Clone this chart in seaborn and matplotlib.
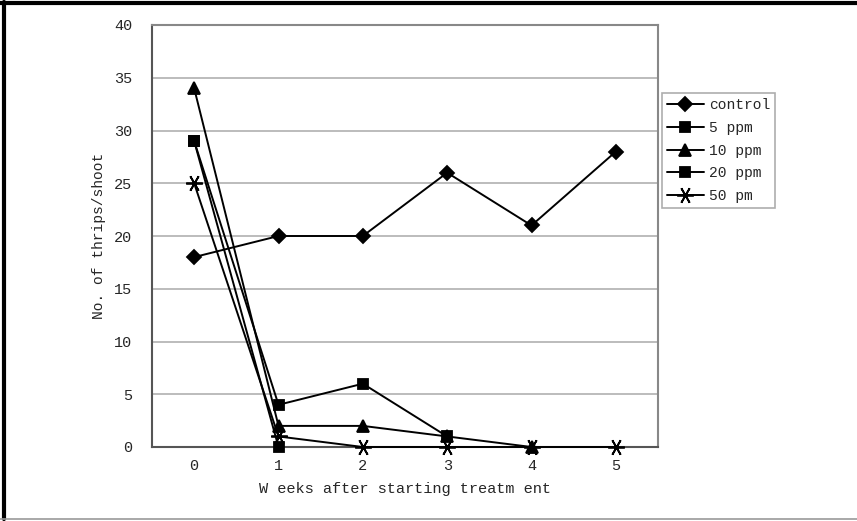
import numpy as np
import pandas as pd
import matplotlib
matplotlib.use("Agg")
import matplotlib.pyplot as plt
import seaborn as sns
from matplotlib.lines import Line2D

# Thrips counts per shoot, by weeks after the start of treatment
weeks = [0, 1, 2, 3, 4, 5]
control = [18, 20, 20, 26, 21, 28]
ppm_5 = [29, 4, 6, 1, np.nan, np.nan]
ppm_10 = [34, 2, 2, 1, 0, np.nan]
ppm_20 = [29, 0, np.nan, np.nan, np.nan, np.nan]
pm_50 = [25, 1, 0, 0, 0, 0]

series_names = ["control", "5 ppm", "10 ppm", "20 ppm", "50 pm"]
series_values = [control, ppm_5, ppm_10, ppm_20, pm_50]
y_ticks = [0, 5, 10, 15, 20, 25, 30, 35, 40]

frames = []
for name, vals in zip(series_names, series_values):
    frames.append(pd.DataFrame({"week": weeks, "count": vals, "treatment": name}))
df = pd.concat(frames, ignore_index=True).dropna()

sns.set_style("white")
plt.rcParams["font.family"] = ["Liberation Mono", "DejaVu Sans"]

fig = plt.figure(figsize=(8.57, 5.21), dpi=100)
ax = fig.add_axes([152 / 857, 74 / 521, 506 / 857, 422 / 521])

styles = {
    "control": dict(marker="D", markersize=7.5, zorder=4),
    "5 ppm": dict(marker="s", markersize=7, zorder=5),
    "10 ppm": dict(marker="^", markersize=8, zorder=3),
    "20 ppm": dict(marker="s", markersize=7, zorder=5),
    "50 pm": dict(marker=(6, 2, 90), markersize=12, zorder=6),
}

for name in series_names:
    sub = df[df["treatment"] == name]
    st = styles[name]
    sns.lineplot(data=sub, x="week", y="count", ax=ax, color="black",
                 linewidth=1.4, marker=st["marker"], markersize=st["markersize"],
                 markeredgecolor="black", markerfacecolor="black",
                 markeredgewidth=1.3, label=name, zorder=st["zorder"],
                 clip_on=False)

ax.set_xlim(-0.5, 5.5)
ax.set_ylim(0, 40)
ax.set_yticks(y_ticks)
ax.set_xticks(weeks)
ax.set_xticks([w + 0.5 for w in weeks[:-1]], minor=True)
ax.yaxis.grid(True, color="#b0b0b0", linewidth=1.2)
ax.xaxis.grid(False)
ax.set_axisbelow(True)

ax.tick_params(axis="x", which="major", length=0, pad=9, labelsize=11)
ax.tick_params(axis="x", which="minor", direction="in", length=5,
               color="#888888", width=1)
ax.tick_params(axis="y", which="major", length=0, pad=14, labelsize=11)

for side in ["left", "bottom"]:
    ax.spines[side].set_color("#555555")
    ax.spines[side].set_linewidth(1.5)
for side in ["top", "right"]:
    ax.spines[side].set_visible(True)
    ax.spines[side].set_color("#888888")
    ax.spines[side].set_linewidth(1.5)

ax.set_xlabel("W eeks after starting treatm ent", fontsize=11, labelpad=6)
ax.set_ylabel("No. of thrips/shoot", fontsize=10.5, labelpad=6)

leg = ax.legend(loc="upper left", bbox_to_anchor=(662 / 857, 1 - 93 / 521),
                bbox_transform=fig.transFigure, frameon=True, fancybox=False,
                shadow=False, fontsize=10.5, handlelength=2.5,
                handletextpad=0.35, labelspacing=0.6, borderpad=0.35,
                borderaxespad=0)
leg.get_frame().set_edgecolor("#999999")
leg.get_frame().set_linewidth(1.2)

# Frame around the figure: heavy top and left rules, light bottom rule
fig.add_artist(Line2D([0, 1], [0.995, 0.995], transform=fig.transFigure,
                      color="black", linewidth=3))
fig.add_artist(Line2D([0.005, 0.005], [0.003, 0.997], transform=fig.transFigure,
                      color="black", linewidth=3))
fig.add_artist(Line2D([0, 1], [0.003, 0.003], transform=fig.transFigure,
                      color="#999999", linewidth=1.2))

fig.savefig("out.png", dpi=100)
